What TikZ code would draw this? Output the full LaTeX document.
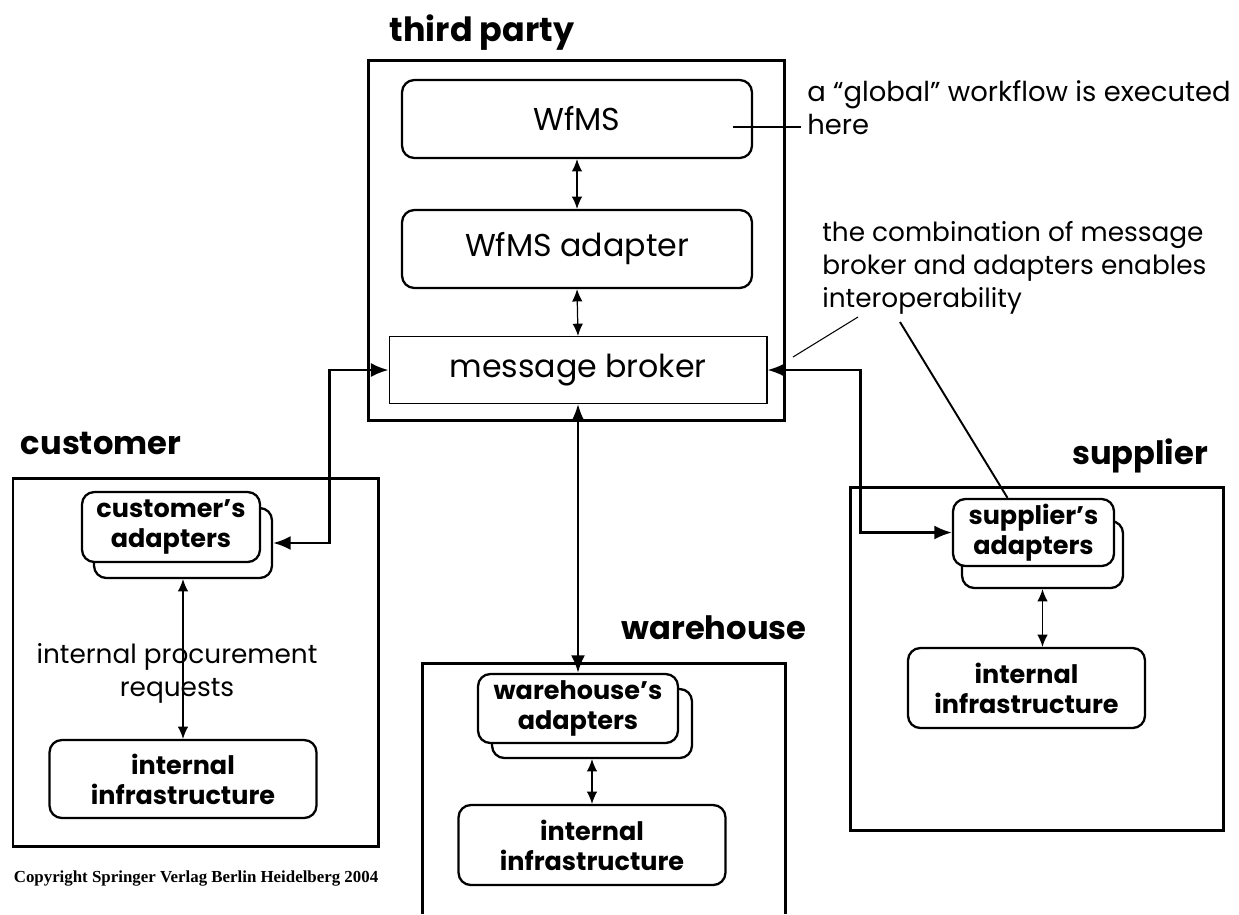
\documentclass[tikz,border=0pt]{standalone}
\usepackage{fontspec}
\setmainfont{Poppins}
\newfontfamily\copyfont{Liberation Serif}
\usetikzlibrary{positioning,arrows.meta}

\begin{document}
\begin{tikzpicture}[x=0.02cm,y=-0.02cm,
    every node/.style={font=\fontsize{15}{18.7}\selectfont},
    party/.style={font=\bfseries\fontsize{18.3}{22}\selectfont},
    unit/.style={draw,line width=1.3pt,rounded corners=7pt,fill=white,align=center,inner sep=0pt},
    local/.style={unit,font=\bfseries\fontsize{14.5}{17}\selectfont},
    note/.style={align=left,anchor=north west,inner sep=0pt},
    link/.style={line width=1.4pt,{Latex[length=10pt,width=8pt]}-{Latex[length=10pt,width=8pt]}},
    call/.style={line width=0.7pt,{Latex[length=7pt,width=6pt]}-{Latex[length=7pt,width=6pt]}}]
    \useasboundingbox (0,0) rectangle (1239,914);

    % third party
    \draw[line width=1.7pt] (368,60) rectangle (784,420);
    \node[party,font=\bfseries\fontsize{19}{22}\selectfont] (tp) at (482,33) {third party};
    \node[unit,minimum width=7cm,minimum height=1.56cm,font=\fontsize{18}{20}\selectfont] (wfms) at (577,119) {WfMS};
    \node[unit,minimum width=7cm,minimum height=1.56cm,font=\fontsize{18}{20}\selectfont] (wfmsad) at (577,249) {WfMS adapter};
    \node[draw,line width=0.6pt,minimum width=7.56cm,minimum height=1.34cm,font=\fontsize{18}{20}\selectfont] (broker) at (578,370) {message broker};

    % customer
    \draw[line width=1.7pt] (13,478) rectangle (378,846);
    \node[party] (cust) at (101,443) {customer};
    \node[local,minimum width=3.56cm,minimum height=1.4cm] (cback) at (183,543) {};
    \node[local,minimum width=3.56cm,minimum height=1.4cm] (cadapt) at (171,527) {customer's\\adapters};
    \node[local,minimum width=5.34cm,minimum height=1.56cm] (cinfra) at (183,779) {internal\\infrastructure};

    % warehouse
    \draw[line width=1.7pt] (422,914) -- (422,663) -- (785,663) -- (785,914);
    \node[party] (ware) at (714,628) {warehouse};
    \node[local,minimum width=4cm,minimum height=1.38cm] (wback) at (592,723.5) {};
    \node[local,minimum width=4cm,minimum height=1.38cm] (wadapt) at (578,708.5) {warehouse's\\adapters};
    \node[local,minimum width=5.34cm,minimum height=1.6cm] (winfra) at (592,845) {internal\\infrastructure};

    % supplier
    \draw[line width=1.7pt] (850,487) rectangle (1223,830);
    \node[party] (supp) at (1140,456) {supplier};
    \node[local,minimum width=3.22cm,minimum height=1.34cm] (sback) at (1042.5,554.5) {};
    \node[local,minimum width=3.22cm,minimum height=1.34cm] (sadapt) at (1033.5,532.5) {supplier's\\adapters};
    \node[local,minimum width=4.74cm,minimum height=1.6cm] (sinfra) at (1026.5,688) {internal\\infrastructure};

    % links to the broker
    \draw[link] (broker.west) -- ++(-59,0) |- (cback.east);
    \draw[link] (broker.south) -- (wadapt.north);
    \draw[link] (broker.east) -- ++(93,0) |- (sadapt.west);

    \foreach \u / \v in {wfms/wfmsad,wfmsad/broker,cback/cinfra,wback/winfra}
        \draw[call] (\u.south) -- (\v.north);
    \draw[call] (sback.south) -- (sback.south |- sinfra.north);
    \node[align=center] (creq) at (177,673) {internal procurement\\requests};

    % notes
    \node[note,font=\fontsize{15.6}{18.7}\selectfont] (gnote) at (807,80) {a “global” workflow is executed\\here};
    \coordinate (gpin) at (733,127);
    \draw[line width=0.6pt] (gpin) -- ([xshift=-0.12cm]gpin -| gnote.west);

    \node[note] (inote) at (822,221) {the combination of message\\broker and adapters enables\\interoperability};
    \coordinate (ifoot) at (858,317);
    \coordinate (ipin) at (793,357);
    \coordinate (sfoot) at (900,322);
    \draw[line width=0.6pt] (ifoot) -- (ipin);
    \draw[line width=1.1pt] (sfoot) -- ([xshift=-0.52cm]sadapt.north);

    \node[font=\copyfont\bfseries\fontsize{9.6}{11}\selectfont] (copy) at (196,878) {Copyright Springer Verlag Berlin Heidelberg 2004};
\end{tikzpicture}
\end{document}
